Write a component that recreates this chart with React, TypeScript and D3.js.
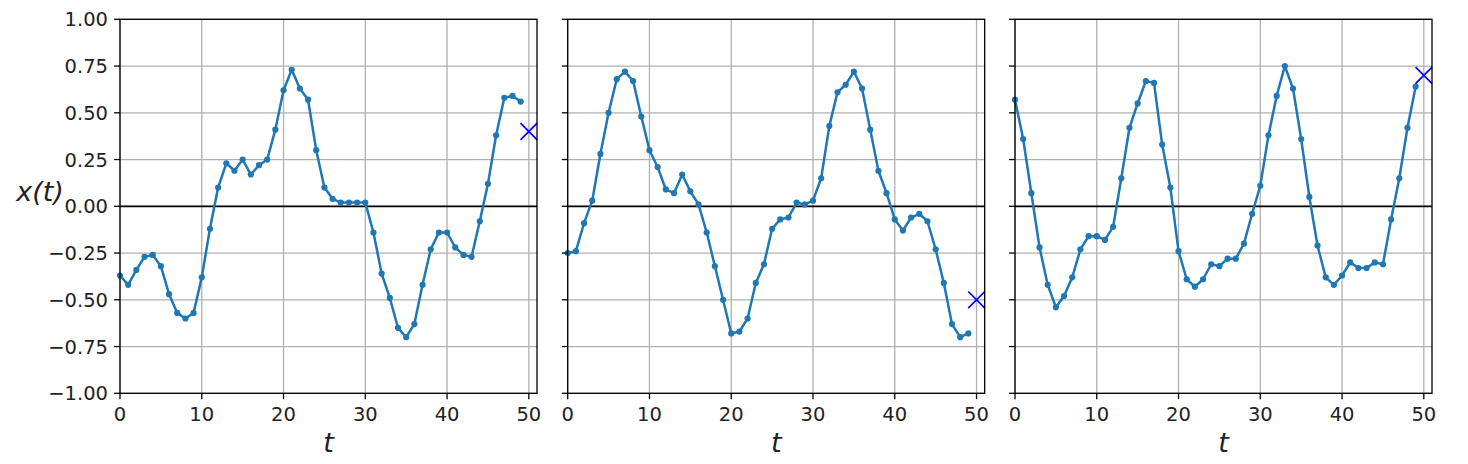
import { useRef, useEffect } from "react";
import * as d3 from "d3";

// three sampled series (t = 0..49) and the target value at t = 50
const series1 = [
  -0.37, -0.42, -0.34, -0.27, -0.26, -0.32, -0.47, -0.57, -0.6, -0.57,
  -0.38, -0.12, 0.1, 0.23, 0.19, 0.25, 0.17, 0.22, 0.25, 0.41,
  0.62, 0.73, 0.63, 0.57, 0.3, 0.1, 0.04, 0.02, 0.02, 0.02,
  0.02, -0.14, -0.36, -0.49, -0.65, -0.7, -0.63, -0.42, -0.23, -0.14,
  -0.14, -0.22, -0.26, -0.27, -0.08, 0.12, 0.38, 0.58, 0.59, 0.56,
];
const series2 = [
  -0.25, -0.24, -0.09, 0.03, 0.28, 0.5, 0.68, 0.72, 0.67, 0.48,
  0.3, 0.21, 0.09, 0.07, 0.17, 0.08, 0.01, -0.14, -0.32, -0.5,
  -0.68, -0.67, -0.6, -0.41, -0.31, -0.12, -0.07, -0.06, 0.02, 0.01,
  0.03, 0.15, 0.43, 0.61, 0.65, 0.72, 0.63, 0.41, 0.19, 0.07,
  -0.07, -0.13, -0.06, -0.04, -0.08, -0.23, -0.41, -0.63, -0.7, -0.68,
];
const series3 = [
  0.57, 0.36, 0.07, -0.22, -0.42, -0.54, -0.48, -0.38, -0.23, -0.16,
  -0.16, -0.18, -0.11, 0.15, 0.42, 0.55, 0.67, 0.66, 0.33, 0.1,
  -0.24, -0.39, -0.43, -0.39, -0.31, -0.32, -0.28, -0.28, -0.2, -0.04,
  0.11, 0.38, 0.59, 0.75, 0.63, 0.36, 0.05, -0.21, -0.38, -0.42,
  -0.37, -0.3, -0.33, -0.33, -0.3, -0.31, -0.07, 0.15, 0.42, 0.64,
];
const targets = [0.4, -0.5, 0.7];
const allSeries = [series1, series2, series3];

const xTicks = [0, 10, 20, 30, 40, 50];
const yTicks = [-1, -0.75, -0.5, -0.25, 0, 0.25, 0.5, 0.75, 1];
const nSteps = 50;

const WIDTH = 1468;
const HEIGHT = 464;
const panelLeft = [120, 567.7, 1015];
const panelW = 417;
const top = 19.3;
const bottom = 393.3;
const FONT = "DejaVu Sans, sans-serif";

export default function App() {
  const svgRef = useRef(null);

  useEffect(() => {
    const svg = d3.select(svgRef.current);
    svg.selectAll("*").remove();

    const y = d3.scaleLinear().domain([-1, 1]).range([bottom, top]);

    allSeries.forEach((series, i) => {
      const x = d3
        .scaleLinear()
        .domain([0, nSteps + 1])
        .range([panelLeft[i], panelLeft[i] + panelW]);
      const g = svg.append("g");

      // grid
      g.selectAll(".gx")
        .data(xTicks)
        .enter()
        .append("line")
        .attr("x1", (d) => x(d))
        .attr("x2", (d) => x(d))
        .attr("y1", top)
        .attr("y2", bottom)
        .attr("stroke", "#b0b0b0")
        .attr("stroke-width", 1.3);
      g.selectAll(".gy")
        .data(yTicks)
        .enter()
        .append("line")
        .attr("x1", x(0))
        .attr("x2", x(nSteps + 1))
        .attr("y1", (d) => y(d))
        .attr("y2", (d) => y(d))
        .attr("stroke", "#b0b0b0")
        .attr("stroke-width", 1.3);

      // zero line
      g.append("line")
        .attr("x1", x(0))
        .attr("x2", x(nSteps + 1))
        .attr("y1", y(0))
        .attr("y2", y(0))
        .attr("stroke", "black")
        .attr("stroke-width", 1.7);

      // series
      const line = d3
        .line<number>()
        .x((d, j) => x(j))
        .y((d) => y(d));
      g.append("path")
        .datum(series)
        .attr("d", line)
        .attr("fill", "none")
        .attr("stroke", "#1f77b4")
        .attr("stroke-width", 2.5)
        .attr("stroke-linejoin", "round");
      g.selectAll(".dot")
        .data(series)
        .enter()
        .append("circle")
        .attr("cx", (d, j) => x(j))
        .attr("cy", (d) => y(d))
        .attr("r", 3.1)
        .attr("fill", "#1f77b4");

      // target marker
      const tx = x(nSteps);
      const ty = y(targets[i]);
      const s = 8.3;
      g.append("path")
        .attr("d", `M${tx - s},${ty - s}L${tx + s},${ty + s}M${tx - s},${ty + s}L${tx + s},${ty - s}`)
        .attr("stroke", "#0000ff")
        .attr("stroke-width", 1.7)
        .attr("fill", "none");

      // spines
      g.append("rect")
        .attr("x", x(0))
        .attr("y", top)
        .attr("width", panelW)
        .attr("height", bottom - top)
        .attr("fill", "none")
        .attr("stroke", "black")
        .attr("stroke-width", 1.3);

      // ticks
      g.selectAll(".tx")
        .data(xTicks)
        .enter()
        .append("line")
        .attr("x1", (d) => x(d))
        .attr("x2", (d) => x(d))
        .attr("y1", bottom)
        .attr("y2", bottom + 5.9)
        .attr("stroke", "black")
        .attr("stroke-width", 1.3);
      g.selectAll(".ty")
        .data(yTicks)
        .enter()
        .append("line")
        .attr("x1", x(0) - 5.9)
        .attr("x2", x(0))
        .attr("y1", (d) => y(d))
        .attr("y2", (d) => y(d))
        .attr("stroke", "black")
        .attr("stroke-width", 1.3);

      g.selectAll(".txl")
        .data(xTicks)
        .enter()
        .append("text")
        .attr("x", (d) => x(d))
        .attr("y", 420.5)
        .attr("text-anchor", "middle")
        .attr("font-family", FONT)
        .attr("font-size", 19.5)
        .attr("fill", "#222")
        .text((d) => d);

      if (i === 0) {
        g.selectAll(".tyl")
          .data(yTicks)
          .enter()
          .append("text")
          .attr("x", x(0) - 12)
          .attr("y", (d) => y(d))
          .attr("dy", "0.36em")
          .attr("text-anchor", "end")
          .attr("font-family", FONT)
          .attr("font-size", 19.5)
          .attr("fill", "#222")
          .text((d) => d3.format(".2f")(d).replace("-", "\u2212"));

        g.append("text")
          .attr("x", 40)
          .attr("y", 201)
          .attr("text-anchor", "middle")
          .attr("font-family", FONT)
          .attr("font-style", "italic")
          .attr("font-size", 27)
          .attr("fill", "#222")
          .text("x(t)");
      }

      g.append("text")
        .attr("x", x(0) + panelW / 2)
        .attr("y", 452)
        .attr("text-anchor", "middle")
        .attr("font-family", FONT)
        .attr("font-style", "italic")
        .attr("font-size", 27)
        .attr("fill", "#222")
        .text("t");
    });
  }, []);

  return (
    <svg
      ref={svgRef}
      width={WIDTH}
      height={HEIGHT}
      style={{ position: "absolute", left: 0, top: 0, background: "white" }}
    ></svg>
  );
}
